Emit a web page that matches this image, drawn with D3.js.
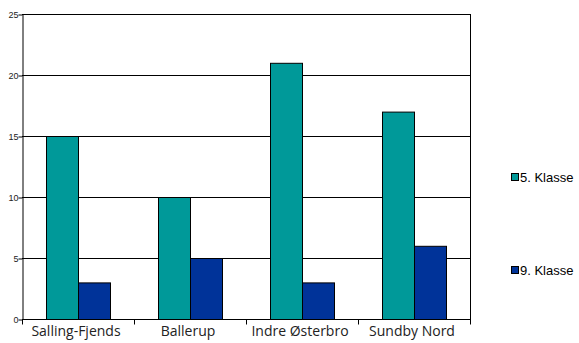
<!DOCTYPE html>
<html><head><meta charset="utf-8">
<script src="https://cdn.jsdelivr.net/npm/d3@7"></script>
<style>body{margin:0;background:#fff}</style>
</head><body><svg id="c" width="579" height="343"></svg>
<script>
const categories = ["Salling-Fjends","Ballerup","Indre Østerbro","Sundby Nord"];
const seriesNames = ["5. Klasse","9. Klasse"];
const klasse5 = [15,10,21,17];
const klasse9 = [3,5,3,6];
const yTicks = [0,5,10,15,20,25];
const colors = ["#009999","#003399"];

const svg = d3.select("#c");
const L=22,R=470,T=14,B=319;
const x = d3.scaleBand().domain(categories).range([L,R]);
const y = d3.scaleLinear().domain([0,25]).range([B,T]);
const inner = d3.scaleBand().domain(seriesNames).range([0,x.bandwidth()]).paddingOuter(0.75).paddingInner(0);

// gridlines
svg.append("g").selectAll("line").data(yTicks).join("line")
  .attr("x1",L).attr("x2",R).attr("y1",d=>y(d)+0.5).attr("y2",d=>y(d)+0.5)
  .attr("stroke","#000").attr("stroke-width",1);
// right border
svg.append("line").attr("x1",R+0.5).attr("x2",R+0.5).attr("y1",T).attr("y2",B).attr("stroke","#000");

const data = categories.map((c,i)=>({c, v:[klasse5[i],klasse9[i]]}));
const g = svg.append("g").selectAll("g").data(data).join("g").attr("transform",d=>`translate(${x(d.c)},0)`);
g.selectAll("rect").data(d=>d.v.map((v,j)=>({v,s:seriesNames[j],j}))).join("rect")
  .attr("x",d=>inner(d.s)+0.5).attr("width",inner.bandwidth())
  .attr("y",d=>y(d.v)+0.5).attr("height",d=>B-y(d.v))
  .attr("fill",d=>colors[d.j]).attr("stroke","#000").attr("stroke-width",1);

// y axis
const ya = svg.append("g").attr("transform",`translate(${L+0.5},0.5)`)
  .call(d3.axisLeft(y).tickValues(yTicks).tickSize(4).tickSizeOuter(0));
ya.select(".domain").attr("stroke","#000");
ya.selectAll("text").attr("font-family","Liberation Sans, Arial").attr("font-size","9px").attr("fill","#222").attr("x",-4);

// x axis
const xa = svg.append("g").attr("transform",`translate(0,${B+0.5})`);
xa.append("line").attr("x1",L).attr("x2",R+1).attr("stroke","#000");
xa.selectAll("line.t").data(d3.range(categories.length+1)).join("line").attr("class","t")
  .attr("x1",i=>L+i*x.step()+0.5).attr("x2",i=>L+i*x.step()+0.5).attr("y1",0).attr("y2",5).attr("stroke","#000");
xa.selectAll("text").data(categories).join("text")
  .attr("x",d=>x(d)+x.bandwidth()/2-2).attr("y",16.5).attr("text-anchor","middle")
  .attr("font-family","Open Sans, DejaVu Sans").attr("font-size","14px").attr("fill","#222").text(d=>d);

// legend
const leg = svg.append("g").selectAll("g").data(seriesNames).join("g")
  .attr("transform",(d,i)=>`translate(511,${[173,266][i]})`);
leg.append("rect").attr("x",0.5).attr("y",0.5).attr("width",7).attr("height",7)
  .attr("fill",(d,i)=>colors[i]).attr("stroke","#000");
leg.append("text").attr("x",9).attr("y",9).attr("font-family","Liberation Sans, Arial")
  .attr("font-size","13px").attr("fill","#000").text(d=>d);
</script></body></html>
